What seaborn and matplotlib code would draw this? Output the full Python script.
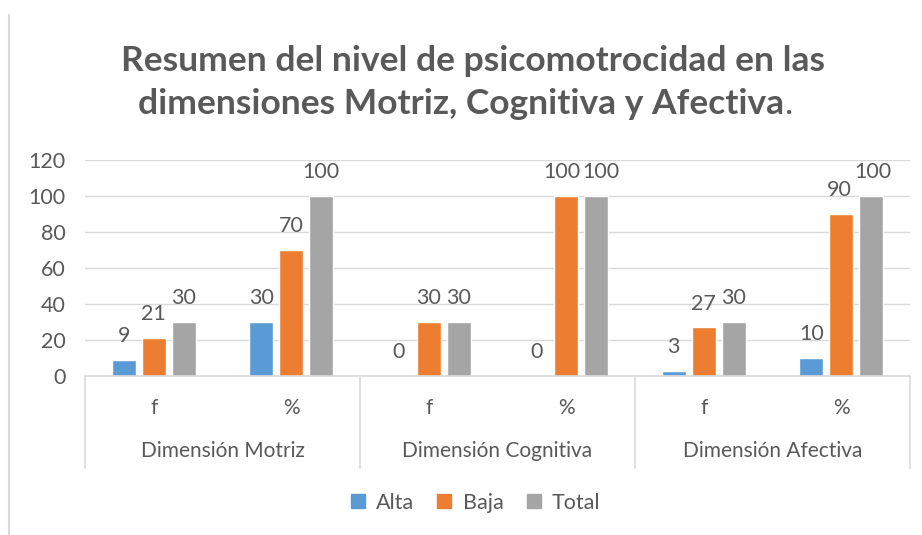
import matplotlib
matplotlib.use("Agg")
import matplotlib.pyplot as plt
import matplotlib.transforms as mtransforms
from matplotlib.lines import Line2D
import seaborn as sns
import pandas as pd

# ---- data ----
groups = ["Dimensión Motriz", "Dimensión Cognitiva", "Dimensión Afectiva"]
subcats = ["f", "%", "f", "%", "f", "%"]
series = ["Alta", "Baja", "Total"]
alta = [9, 30, 0, 0, 3, 10]
baja = [21, 70, 30, 100, 27, 90]
total = [30, 100, 30, 100, 30, 100]
yticks = [0, 20, 40, 60, 80, 100, 120]
title1 = "Resumen del nivel de psicomotrocidad en las"
title2 = "dimensiones Motriz, Cognitiva y Afectiva"

colors = ["#5B9BD5", "#ED7D31", "#A5A5A5"]
txt = "#595959"
gridc = "#D9D9D9"

rows = []
for i in range(len(subcats)):
    for s, vals in zip(series, [alta, baja, total]):
        rows.append({"cat": i, "serie": s, "value": vals[i]})
df = pd.DataFrame(rows)

sns.set_style("white")
plt.rcParams["font.family"] = ["Lato", "DejaVu Sans"]

fig = plt.figure(figsize=(9.22, 5.35), dpi=100)
ax = fig.add_axes([85 / 922, (535 - 376) / 535, (910 - 85) / 922, 216 / 535])

sns.barplot(data=df, x="cat", y="value", hue="serie", order=list(range(6)),
            hue_order=series, palette=colors, width=0.655, gap=0.2,
            saturation=1, ax=ax, legend=False)

labels = []
for cont in ax.containers:
    labels.append(ax.bar_label(cont, labels=[f"{v:g}" for v in cont.datavalues],
                               padding=10, fontsize=15.5, color=txt))

ax.set_xlim(-0.5, 5.5)
ax.set_ylim(0, 120)
ax.set_yticks(yticks)
ax.set_yticklabels([str(t) for t in yticks], fontsize=15.5, color=txt)
ax.tick_params(axis="y", length=0, pad=14)
ax.set_xticks([])
ax.set_xlabel("")
ax.set_ylabel("")
ax.yaxis.grid(True, color=gridc, lw=1)
ax.set_axisbelow(True)
for sp in ["top", "right", "left"]:
    ax.spines[sp].set_visible(False)
ax.spines["bottom"].set_color(gridc)
ax.spines["bottom"].set_linewidth(1.2)

trans = mtransforms.blended_transform_factory(ax.transData, ax.transAxes)
for i, lab in enumerate(subcats):
    ax.text(i, -0.15, lab, transform=trans, ha="center", va="center",
            fontsize=15, color=txt)
for g, name in enumerate(groups):
    ax.text(2 * g + 0.5, -0.345, name, transform=trans, ha="center",
            va="center", fontsize=15, color=txt)
for xb in [-0.5, 1.5, 3.5, 5.5]:
    ax.plot([xb, xb], [0, -0.425], transform=trans, color=gridc, lw=1.2,
            clip_on=False)

handles = [Line2D([], [], marker="s", ls="", color=c, markersize=10) for c in colors]
fig.legend(handles, series, loc="center", bbox_to_anchor=(0.515, 0.06),
           ncol=3, frameon=False, fontsize=15.5, labelcolor=txt,
           handlelength=0.8, handletextpad=0.45, columnspacing=1.0)

fig.text(0.513, (535 - 61) / 535, title1, ha="center", va="center",
         fontsize=25.5, fontweight="bold", color=txt)
t2 = fig.text(0.50, (535 - 104) / 535, title2, ha="center", va="center",
              fontsize=25.5, fontweight="bold", color=txt)
fig.canvas.draw()
bb = t2.get_window_extent()
fig.text(bb.x1 / 922 + 0.001, (535 - 104) / 535, ".", ha="left", va="center",
         fontsize=25.5, color=txt)

# nudge touching data labels apart (as the reference's "100100")
r = fig.canvas.get_renderer()
for j in range(len(labels) - 1):
    for a, b in zip(labels[j], labels[j + 1]):
        ea, eb = a.get_window_extent(r), b.get_window_extent(r)
        if ea.overlaps(eb):
            shift = (ea.x1 - eb.x0 + 2) / 2
            a.set_x(a.get_position()[0] - shift * 72 / 100 * 0 - 0)
            a.xyann = (a.xyann[0] - shift * 72 / 100, a.xyann[1])
            b.xyann = (b.xyann[0] + shift * 72 / 100, b.xyann[1])

fig.add_artist(Line2D([8.5 / 922, 8.5 / 922], [0, (535 - 15) / 535],
                      color=gridc, lw=1.5))

fig.savefig("out.png", dpi=100)
